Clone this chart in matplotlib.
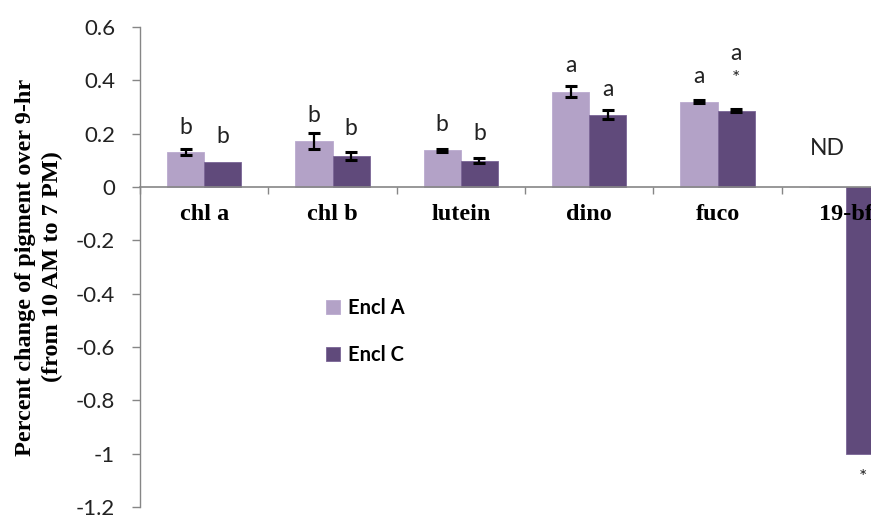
import matplotlib
matplotlib.use("Agg")
import matplotlib.pyplot as plt
import numpy as np

categories = ["chl a", "chl b", "lutein", "dino", "fuco", "19-bf"]
series_names = ["Encl A", "Encl C"]
encl_a = [0.132, 0.171, 0.137, 0.357, 0.320, 0.0]
encl_c = [0.095, 0.117, 0.099, 0.271, 0.286, -1.0]
err_a = [0.012, 0.030, 0.004, 0.020, 0.005, 0.0]
err_c = [0.0, 0.014, 0.010, 0.016, 0.005, 0.0]
letters_a = ["b", "b", "b", "a", "a"]
letters_c = ["b", "b", "b", "a", "a"]
yticks = [0.6, 0.4, 0.2, 0, -0.2, -0.4, -0.6, -0.8, -1, -1.2]
ytick_labels = ["0.6", "0.4", "0.2", "0", "-0.2", "-0.4", "-0.6", "-0.8", "-1", "-1.2"]

col_a = "#B3A2C7"
col_c = "#604A7B"
gray = "#868686"

fig = plt.figure(figsize=(8.71, 5.15), dpi=100)
ax = fig.add_axes([140/871, 1-507/515, (910-140)/871, (507-27)/515])

x = np.arange(len(categories))
w = 0.29
ax.bar(x - w/2, encl_a, w, color=col_a, edgecolor="#BBAACF", linewidth=0.6, label=series_names[0], zorder=2)
ax.bar(x + w/2, encl_c, w, color=col_c, edgecolor="#7A6596", linewidth=0.6, label=series_names[1], zorder=2)

for i in range(len(categories)):
    if err_a[i] > 0:
        ax.errorbar(x[i] - w/2, encl_a[i], yerr=err_a[i], fmt="none", ecolor="black",
                    elinewidth=1.6, capsize=4.3, capthick=2.2, zorder=3)
    if err_c[i] > 0:
        ax.errorbar(x[i] + w/2, encl_c[i], yerr=err_c[i], fmt="none", ecolor="black",
                    elinewidth=1.6, capsize=4.3, capthick=2.2, zorder=3)

lab_font = dict(family=["Lato", "DejaVu Sans"], fontsize=16.5, color="#222222")
# letters above bars
pos_a = [0.225, 0.270, 0.236, 0.454, 0.414]
pos_c = [0.188, 0.221, 0.200, 0.367, 0.501]
for i in range(5):
    ax.text(x[i] - w/2, pos_a[i], letters_a[i], ha="center", va="center", **lab_font)
    ax.text(x[i] + w/2, pos_c[i], letters_c[i], ha="center", va="center", **lab_font)
ax.text(x[4] + w/2, 0.405, "*", ha="center", va="center", family=["Lato", "DejaVu Sans"], fontsize=14, color="#222222")
ax.text(4.86, 0.146, "ND", ha="center", va="center", **lab_font)
ax.text(x[5] + w/2 - 0.01, -1.09, "*", ha="center", va="center", family=["Lato", "DejaVu Sans"], fontsize=14, color="#222222")

ax.set_xlim(-0.5, 5.5)
ax.set_ylim(-1.2, 0.6)

for s in ["top", "right"]:
    ax.spines[s].set_visible(False)
ax.spines["bottom"].set_position(("data", 0))
ax.spines["bottom"].set_color(gray)
ax.spines["left"].set_color(gray)
ax.spines["bottom"].set_linewidth(1.2)
ax.spines["left"].set_linewidth(1.0)
ax.set_axisbelow(False)

ax.set_xticks(np.arange(-0.5, 6, 1.0))
ax.set_xticklabels([])
ax.tick_params(axis="x", which="major", direction="out", length=5, color=gray, width=1)
ax.set_xticks(x, minor=True)
ax.set_xticklabels(categories, minor=True, family=["Liberation Serif"], fontweight="bold", fontsize=17.5)
ax.tick_params(axis="x", which="minor", length=0, pad=12)

ax.set_yticks(yticks)
ax.set_yticklabels(ytick_labels, family=["Lato", "DejaVu Sans"], fontsize=16, color="#222222")
ax.tick_params(axis="y", direction="out", length=6, color=gray, width=1, pad=12)

fig.text(39/871, 1 - 267/515, "Percent change of pigment over 9-hr\n(from 10 AM to 7 PM)",
         rotation=90, ha="center", va="center", multialignment="center",
         family=["Liberation Serif"], fontweight="bold", fontsize=17.5, linespacing=1.4)

leg = fig.legend(loc="upper left", bbox_to_anchor=(308/871, 1 - 280/515), frameon=False,
                 prop=dict(family="Lato", weight="bold", size=14.5), handlelength=0.7, handleheight=0.7,
                 labelspacing=1.35, handletextpad=0.4)

fig.savefig("out.png", dpi=100)
